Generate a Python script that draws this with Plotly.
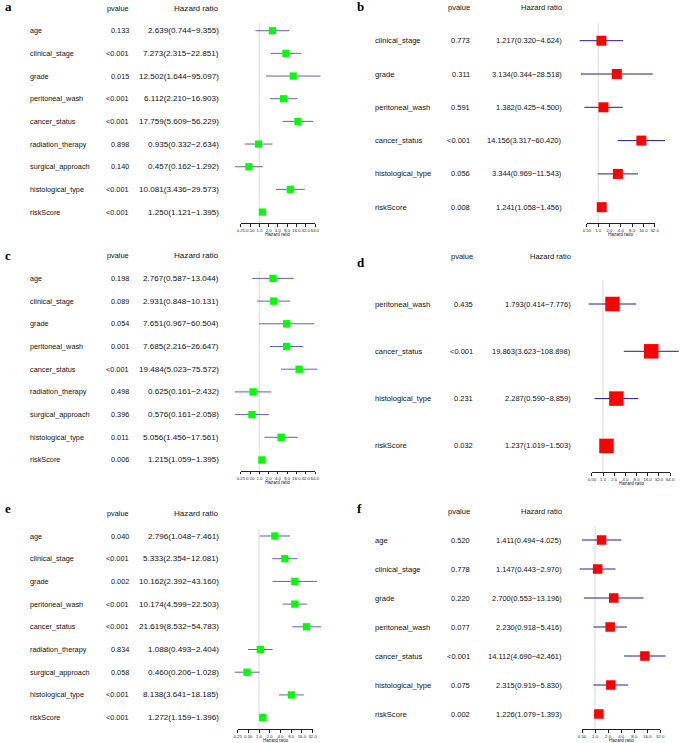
import math
import plotly.graph_objects as go

W, H = 685, 743

# ---------------- data ----------------
a_vars = ["age", "clinical_stage", "grade", "peritoneal_wash", "cancer_status",
          "radiation_therapy", "surgical_approach", "histological_type", "riskScore"]
a_pvalue = ["0.133", "<0.001", "0.015", "<0.001", "<0.001", "0.898", "0.140", "<0.001", "<0.001"]
a_hr = [2.639, 7.273, 12.502, 6.112, 17.759, 0.935, 0.457, 10.081, 1.250]
a_low = [0.744, 2.315, 1.644, 2.210, 5.609, 0.332, 0.162, 3.436, 1.121]
a_high = [9.355, 22.851, 95.097, 16.903, 56.229, 2.634, 1.292, 29.573, 1.395]
a_ticks = [0.25, 0.5, 1, 2, 4, 8, 16, 32, 64]

b_vars = ["clinical_stage", "grade", "peritoneal_wash", "cancer_status", "histological_type", "riskScore"]
b_pvalue = ["0.773", "0.311", "0.591", "<0.001", "0.056", "0.008"]
b_hr = [1.217, 3.134, 1.382, 14.156, 3.344, 1.241]
b_low = [0.320, 0.344, 0.425, 3.317, 0.969, 1.058]
b_high = [4.624, 28.518, 4.500, 60.420, 11.543, 1.456]
b_ticks = [0.5, 1, 2, 4, 8, 16, 32]

c_vars = ["age", "clinical_stage", "grade", "peritoneal_wash", "cancer_status",
          "radiation_therapy", "surgical_approach", "histological_type", "riskScore"]
c_pvalue = ["0.198", "0.089", "0.054", "0.001", "<0.001", "0.498", "0.396", "0.011", "0.006"]
c_hr = [2.767, 2.931, 7.651, 7.685, 19.484, 0.625, 0.576, 5.056, 1.215]
c_low = [0.587, 0.848, 0.967, 2.216, 5.023, 0.161, 0.161, 1.456, 1.059]
c_high = [13.044, 10.131, 60.504, 26.647, 75.572, 2.432, 2.058, 17.561, 1.395]
c_ticks = [0.25, 0.5, 1, 2, 4, 8, 16, 32, 64]

d_vars = ["peritoneal_wash", "cancer_status", "histological_type", "riskScore"]
d_pvalue = ["0.435", "<0.001", "0.231", "0.032"]
d_hr = [1.793, 19.863, 2.287, 1.237]
d_low = [0.414, 3.623, 0.590, 1.019]
d_high = [7.776, 108.898, 8.859, 1.503]
d_ticks = [0.5, 1, 2, 4, 8, 16, 32, 64]

e_vars = ["age", "clinical_stage", "grade", "peritoneal_wash", "cancer_status",
          "radiation_therapy", "surgical_approach", "histological_type", "riskScore"]
e_pvalue = ["0.040", "<0.001", "0.002", "<0.001", "<0.001", "0.834", "0.058", "<0.001", "<0.001"]
e_hr = [2.796, 5.333, 10.162, 10.174, 21.619, 1.088, 0.460, 8.138, 1.272]
e_low = [1.048, 2.354, 2.392, 4.599, 8.532, 0.493, 0.206, 3.641, 1.159]
e_high = [7.461, 12.081, 43.160, 22.503, 54.783, 2.404, 1.028, 18.185, 1.396]
e_ticks = [0.25, 0.5, 1, 2, 4, 8, 16, 32]

f_vars = ["age", "clinical_stage", "grade", "peritoneal_wash", "cancer_status", "histological_type", "riskScore"]
f_pvalue = ["0.520", "0.778", "0.220", "0.077", "<0.001", "0.075", "0.002"]
f_hr = [1.411, 1.147, 2.700, 2.230, 14.112, 2.315, 1.226]
f_low = [0.494, 0.443, 0.553, 0.918, 4.690, 0.919, 1.079]
f_high = [4.025, 2.970, 13.196, 5.416, 42.461, 5.830, 1.393]
f_ticks = [0.5, 1, 2, 4, 8, 16, 32]

tick_label = {0.25: "0.25", 0.5: "0.50", 1: "1.0", 2: "2.0", 4: "4.0",
              8: "8.0", 16: "16.0", 32: "32.0", 64: "64.0"}

# ---------------- style / geometry ----------------
GREEN = "#00ff00"
RED = "#ff0000"
LINE_DARK = "#1c1c98"
LINE_LIGHT = "#6060c2"
REF = "#e4e4e4"
SANS = "Liberation Sans, Arial, sans-serif"
SERIF = "Liberation Serif, Times New Roman, serif"

LEFT_COLS = (26.0, 126.7, 218.0)
RIGHT_COLS = (376.0, 472.7, 565.0)
LEFT_FS = (7.3, 7.3, 8.1)
RIGHT_FS = (7.6, 7.5, 7.5)

panels = [
    dict(letter="a", vars=a_vars, p=a_pvalue, hr=a_hr, lo=a_low, hi=a_high, ticks=a_ticks,
         color=GREEN, line=LINE_LIGHT, msize=7.2, y0=30.7, dy=22.67, axis=223.3, lp=240.0, rp=315.2,
         cols=LEFT_COLS, fs=LEFT_FS, lxy=(1.5, 6.5), ref_top=-0.33),
    dict(letter="b", vars=b_vars, p=b_pvalue, hr=b_hr, lo=b_low, hi=b_high, ticks=b_ticks,
         color=RED, line=LINE_DARK, msize=10.0, y0=40.7, dy=33.3, axis=223.3, lp=590.7, rp=659.3,
         cols=RIGHT_COLS, fs=RIGHT_FS, lxy=(357.5, 6.5), ref_top=-0.52),
    dict(letter="c", vars=c_vars, p=c_pvalue, hr=c_hr, lo=c_low, hi=c_high, ticks=c_ticks,
         color=GREEN, line=LINE_LIGHT, msize=7.4, y0=278.4, dy=22.7, axis=471.0, lp=240.0, rp=315.2,
         cols=LEFT_COLS, fs=LEFT_FS, lxy=(1.5, 255.5), ref_top=-0.33),
    dict(letter="d", vars=d_vars, p=d_pvalue, hr=d_hr, lo=d_low, hi=d_high, ticks=d_ticks,
         color=RED, line=LINE_DARK, msize=14.5, y0=304.0, dy=47.3, axis=472.3, lp=595.7, rp=675.0,
         cols=(376.0, 475.0, 574.3), fs=RIGHT_FS, lxy=(357.5, 262.0), ref_top=-0.51),
    dict(letter="e", vars=e_vars, p=e_pvalue, hr=e_hr, lo=e_low, hi=e_high, ticks=e_ticks,
         color=GREEN, line=LINE_LIGHT, msize=7.3, y0=536.0, dy=22.7, axis=729.3, lp=236.7, rp=312.7,
         cols=LEFT_COLS, fs=LEFT_FS, lxy=(1.5, 508.0), ref_top=-0.33),
    dict(letter="f", vars=f_vars, p=f_pvalue, hr=f_hr, lo=f_low, hi=f_high, ticks=f_ticks,
         color=RED, line=LINE_DARK, msize=9.5, y0=540.0, dy=29.0, axis=729.3, lp=585.7, rp=665.0,
         cols=RIGHT_COLS, fs=RIGHT_FS, lxy=(357.5, 508.0), ref_top=-0.5),
]


def px(x):
    return x / W


def py(y):
    return 1 - y / H


def ax_name(n, kind):
    return kind if n == 1 else f"{kind}{n}"


def lay_name(n, kind):
    return f"{kind}axis" if n == 1 else f"{kind}axis{n}"


def note(**kw):
    base = dict(showarrow=False, borderpad=0, borderwidth=0)
    base.update(kw)
    return base


def tfont(size):
    return dict(family=SANS, size=size, color="#111")


fig = go.Figure()
annotations = []
layout_axes = {}

for k, P in enumerate(panels, start=1):
    n = len(P["vars"])
    y0, dy = P["y0"], P["dy"]
    yname = ax_name(k, "y")
    xvis = 2 * k - 1
    xdat = 2 * k

    top_px = max(0.0, y0 - 1.6 * dy)
    axis_px = P["axis"]
    layout_axes[lay_name(k, "y")] = dict(
        domain=[py(axis_px), py(top_px)],
        range=[(axis_px - y0) / dy, (top_px - y0) / dy],
        visible=False, fixedrange=True,
    )

    ticks = P["ticks"]
    vmin, vmax = ticks[0], ticks[-1]
    lmin, lmax = math.log10(vmin), math.log10(vmax)
    s = (lmax - lmin) / (P["rp"] - P["lp"])  # log units per pixel
    pad_l = min(40.0, P["lp"] - 1)
    pad_r = min(40.0, W - 1 - P["rp"])

    layout_axes[lay_name(xvis, "x")] = dict(
        type="log", domain=[px(P["lp"]), px(P["rp"])], range=[lmin, lmax],
        anchor=yname, tickmode="array", tickvals=ticks,
        ticktext=[tick_label[t] for t in ticks], tickangle=0,
        ticks="outside", ticklen=2.5, tickwidth=0.6, tickcolor="#222",
        showline=True, linewidth=0.7, linecolor="#222",
        showgrid=False, zeroline=False, fixedrange=True,
        tickfont=dict(family=SANS, size=4.3, color="#222"),
    )
    layout_axes[lay_name(xdat, "x")] = dict(
        type="log", domain=[px(P["lp"] - pad_l), px(P["rp"] + pad_r)],
        range=[lmin - pad_l * s, lmax + pad_r * s],
        anchor=yname, visible=False, fixedrange=True,
    )

    xv = ax_name(xvis, "x")
    xd = ax_name(xdat, "x")
    axis_row = (axis_px - y0) / dy

    # dummy (keeps visible axis subplot alive)
    fig.add_trace(go.Scatter(x=[1], y=[0], xaxis=xv, yaxis=yname, mode="markers",
                             marker=dict(opacity=0), hoverinfo="skip", showlegend=False))
    # reference line at HR = 1
    fig.add_trace(go.Scatter(x=[1, 1], y=[P["ref_top"], axis_row], xaxis=xd, yaxis=yname,
                             mode="lines", line=dict(color=REF, width=1.4),
                             hoverinfo="skip", showlegend=False))
    # confidence intervals
    cx, cy = [], []
    for i in range(n):
        cx += [P["lo"][i], P["hi"][i], None]
        cy += [i, i, None]
    fig.add_trace(go.Scatter(x=cx, y=cy, xaxis=xd, yaxis=yname, mode="lines",
                             line=dict(color=P["line"], width=1.0),
                             hoverinfo="skip", showlegend=False))
    # hazard ratio boxes
    fig.add_trace(go.Scatter(x=P["hr"], y=list(range(n)), xaxis=xd, yaxis=yname,
                             mode="markers", cliponaxis=False,
                             marker=dict(symbol="square", size=P["msize"], color=P["color"],
                                         line=dict(width=0)),
                             showlegend=False))

    c_lab, c_p, c_hr = P["cols"]
    f_lab, f_p, f_hr = P["fs"]
    # header
    annotations.append(note(x=px(c_p), y=-1, xref="paper", yref=yname, text="pvalue",
                            xanchor="right", yanchor="middle", font=tfont(f_p)))
    annotations.append(note(x=px(c_hr), y=-1, xref="paper", yref=yname, text="Hazard ratio",
                            xanchor="right", yanchor="middle", font=tfont(f_hr)))
    for i in range(n):
        hr_txt = f"{P['hr'][i]:.3f}({P['lo'][i]:.3f}\u2212{P['hi'][i]:.3f})"
        annotations.append(note(x=px(c_lab), y=i, xref="paper", yref=yname, text=P["vars"][i],
                                xanchor="left", yanchor="middle", font=tfont(f_lab)))
        annotations.append(note(x=px(c_p), y=i, xref="paper", yref=yname, text=P["p"][i],
                                xanchor="right", yanchor="middle", font=tfont(f_p)))
        annotations.append(note(x=px(c_hr), y=i, xref="paper", yref=yname, text=hr_txt,
                                xanchor="right", yanchor="middle", font=tfont(f_hr)))
    # axis title
    annotations.append(note(x=px((P["lp"] + P["rp"]) / 2), y=py(axis_px + 11.5),
                            xref="paper", yref="paper", text="Hazard ratio",
                            xanchor="center", yanchor="middle",
                            font=dict(family=SANS, size=4.6, color="#222")))
    # panel letter
    lx, ly = P["lxy"]
    annotations.append(note(x=px(lx), y=py(ly), xref="paper", yref="paper",
                            text=f"<b>{P['letter']}</b>", xanchor="left", yanchor="middle",
                            font=dict(family=SERIF, size=13, color="#000")))

fig.update_layout(
    width=W, height=H,
    margin=dict(l=0, r=0, t=0, b=0),
    paper_bgcolor="white", plot_bgcolor="rgba(0,0,0,0)",
    showlegend=False,
    annotations=annotations,
    **layout_axes,
)

fig.write_html("out.html", config={"displayModeBar": False},
               post_script="document.body.style.margin='0px';")
